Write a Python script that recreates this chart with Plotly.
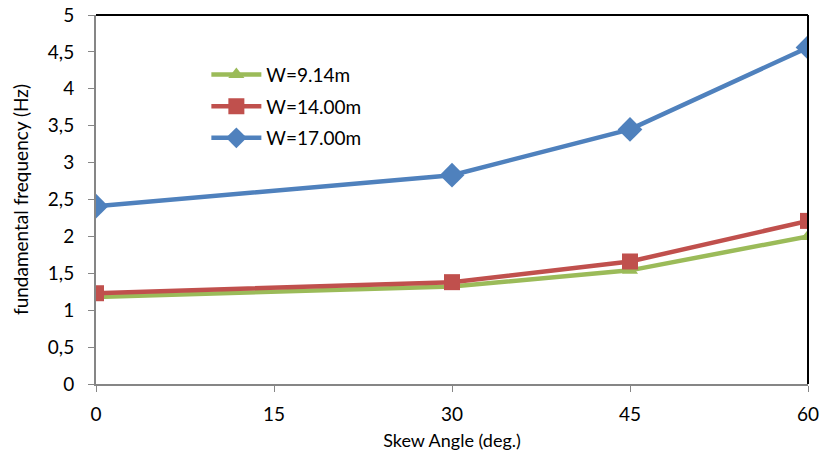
import plotly.graph_objects as go

skew = [0, 30, 45, 60]
w914 = [1.18, 1.32, 1.54, 2.00]
w1400 = [1.23, 1.38, 1.66, 2.21]
w1700 = [2.41, 2.83, 3.45, 4.56]
names = ["W=9.14m", "W=14.00m", "W=17.00m"]
colors = ["#9BBB59", "#C0504D", "#4F81BD"]
symbols = ["triangle-up", "square", "diamond"]
sizes = [14, 16, 19]
x_ticks = [0, 15, 30, 45, 60]
y_ticks = [0, 0.5, 1, 1.5, 2, 2.5, 3, 3.5, 4, 4.5, 5]

FONT = "Lato, Carlito, Calibri, sans-serif"
fig = go.Figure()
for i, (name, ys, c, s, sz) in enumerate(zip(names, [w914, w1400, w1700], colors, symbols, sizes)):
    fig.add_trace(go.Scatter(x=skew, y=ys, name=name, mode="lines+markers",
                             legendgroup=f"g{i}",
                             line=dict(color=c, width=4.5),
                             marker=dict(symbol=s, size=sz, color=c)))

fig.update_layout(
    width=822, height=452,
    margin=dict(l=96, r=14, t=15, b=68),
    plot_bgcolor="white", paper_bgcolor="white",
    separators=",.",
    font=dict(family=FONT, size=19, color="black"),
    showlegend=True,
    legend=dict(x=0.155, y=0.89, xanchor="left", yanchor="top",
                font=dict(family=FONT, size=19), bgcolor="rgba(0,0,0,0)",
                tracegroupgap=4, itemwidth=50),
    xaxis=dict(range=[0, 60], tickvals=x_ticks, showgrid=False, zeroline=False,
               automargin=False,
               showline=True, linecolor="#868686", linewidth=2,
               ticks="outside", ticklen=6, tickcolor="#868686",
               ticklabelstandoff=6,
               title=dict(text="Skew Angle (deg.)", font=dict(size=18), standoff=11)),
    yaxis=dict(range=[0, 5], tickvals=y_ticks, showgrid=False, zeroline=False,
               automargin=False,
               showline=True, linecolor="#868686", linewidth=2,
               ticks="outside", ticklen=6, tickcolor="#868686",
               ticklabelstandoff=10,
               title=dict(text="fundamental frequency (Hz)", font=dict(size=19), standoff=14)),
)
fig.add_shape(type="line", xref="paper", yref="paper", x0=0, x1=1, y0=1, y1=1,
              line=dict(color="black", width=2))
fig.add_shape(type="line", xref="paper", yref="paper", x0=1, x1=1, y0=0, y1=1,
              line=dict(color="black", width=2))
fig.write_html("out.html")
